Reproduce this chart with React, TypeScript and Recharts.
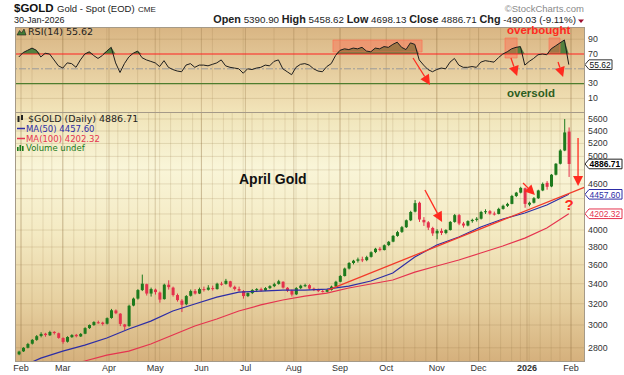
import React from 'react';
import {
  ComposedChart, Bar, Line, Area, XAxis, YAxis, CartesianGrid, ReferenceLine, ReferenceArea,
} from 'recharts';

// trading-day index 0 = 3 Feb 2025
const monthLabels = ['Feb', 'Mar', 'Apr', 'May', 'Jun', 'Jul', 'Aug', 'Sep', 'Oct', 'Nov', 'Dec', '2026', 'Feb'];
const monthStarts = [0, 19, 40, 61, 82, 102, 124, 145, 166, 189, 208, 230, 250];
const weekStarts = [0, 5, 10, 14, 19, 24, 29, 34, 39, 44, 49, 53, 58, 63, 68, 73, 78, 82, 87, 92, 96, 101, 105, 110,
  115, 120, 125, 130, 135, 140, 145, 149, 154, 159, 164, 169, 174, 179, 184, 189, 194, 199, 204, 208, 213, 218, 223,
  227, 231, 236, 241, 245, 250];
const priceTicks = [2800, 3000, 3200, 3400, 3600, 3800, 4000, 4200, 4400, 4600, 4800, 5000, 5200, 5400, 5600];
// labels that sit under the value tags on the right
const coveredTicks = [4200, 4400, 4800];
const rsiTicks = [10, 30, 70, 90];

// [open, high, low, close], one candle per two sessions, ending 30-Jan-2026
const candles = [
  [2745, 2775, 2738, 2768], [2770, 2805, 2765, 2800], [2800, 2842, 2795, 2832], [2835, 2875, 2828, 2868],
  [2868, 2910, 2860, 2900], [2902, 2935, 2890, 2920], [2922, 2930, 2895, 2910], [2908, 2948, 2902, 2937],
  [2938, 2945, 2915, 2928], [2926, 2932, 2878, 2885], [2884, 2890, 2835, 2850], [2852, 2900, 2845, 2893],
  [2892, 2918, 2885, 2910], [2912, 2920, 2890, 2900], [2898, 2928, 2893, 2920], [2922, 2980, 2918, 2972],
  [2972, 3005, 2965, 3000], [3000, 3035, 2992, 3027], [3025, 3040, 3012, 3020], [3022, 3030, 2995, 3009],
  [3012, 3070, 3005, 3063], [3065, 3150, 3058, 3137], [3135, 3145, 3100, 3109], [3105, 3110, 2990, 3010],
  [3005, 3010, 2955, 2985], [2990, 3190, 2985, 3180], [3182, 3260, 3175, 3250], [3250, 3345, 3240, 3335],
  [3335, 3495, 3325, 3400], [3395, 3400, 3280, 3300], [3300, 3360, 3270, 3345], [3340, 3350, 3290, 3315],
  [3310, 3320, 3210, 3240], [3245, 3400, 3240, 3390], [3390, 3435, 3340, 3365], [3360, 3370, 3270, 3285],
  [3285, 3300, 3220, 3235], [3230, 3245, 3120, 3190], [3195, 3285, 3185, 3275], [3278, 3340, 3270, 3325],
  [3325, 3345, 3290, 3300], [3300, 3360, 3295, 3345], [3345, 3370, 3320, 3335], [3338, 3385, 3330, 3360],
  [3355, 3380, 3330, 3345], [3345, 3410, 3340, 3400], [3400, 3420, 3380, 3395], [3398, 3450, 3390, 3430],
  [3425, 3430, 3360, 3370], [3368, 3380, 3330, 3345], [3345, 3370, 3320, 3330], [3325, 3335, 3250, 3275],
  [3275, 3310, 3265, 3305], [3305, 3345, 3295, 3335], [3335, 3355, 3315, 3345], [3345, 3360, 3320, 3330],
  [3330, 3365, 3325, 3355], [3355, 3385, 3345, 3375], [3375, 3410, 3365, 3395], [3398, 3440, 3390, 3425],
  [3420, 3425, 3350, 3360], [3358, 3365, 3315, 3330], [3328, 3340, 3270, 3290], [3292, 3365, 3285, 3355],
  [3355, 3390, 3345, 3380], [3380, 3400, 3365, 3385], [3385, 3395, 3340, 3350], [3350, 3360, 3325, 3335],
  [3335, 3350, 3315, 3325], [3325, 3340, 3310, 3318], [3318, 3345, 3312, 3335], [3338, 3380, 3330, 3370],
  [3372, 3430, 3365, 3420], [3420, 3490, 3415, 3480], [3480, 3570, 3475, 3560], [3560, 3630, 3550, 3620],
  [3620, 3655, 3605, 3645], [3645, 3680, 3625, 3660], [3660, 3690, 3630, 3650], [3652, 3700, 3640, 3685],
  [3688, 3750, 3680, 3740], [3742, 3790, 3730, 3780], [3780, 3800, 3750, 3765], [3765, 3830, 3760, 3820],
  [3822, 3870, 3810, 3860], [3862, 3940, 3855, 3930], [3930, 3990, 3920, 3975], [3978, 4050, 3965, 4035],
  [4035, 4130, 4025, 4120], [4120, 4240, 4110, 4225], [4230, 4380, 4220, 4340], [4345, 4360, 4100, 4130],
  [4125, 4160, 4050, 4095], [4095, 4110, 4000, 4030], [4025, 4040, 3930, 3960], [3960, 4010, 3890, 3990],
  [3990, 4020, 3940, 3965], [3965, 4010, 3950, 4000], [4000, 4110, 3995, 4100], [4100, 4200, 4090, 4185],
  [4185, 4200, 4060, 4080], [4080, 4100, 4030, 4055], [4055, 4120, 4045, 4110], [4110, 4140, 4090, 4125],
  [4125, 4160, 4105, 4140], [4140, 4240, 4130, 4225], [4225, 4260, 4200, 4235], [4235, 4250, 4190, 4205],
  [4205, 4230, 4180, 4200], [4200, 4280, 4195, 4265], [4265, 4320, 4255, 4305], [4305, 4345, 4290, 4330],
  [4330, 4450, 4325, 4435], [4435, 4490, 4420, 4480], [4480, 4560, 4470, 4545], [4540, 4550, 4280, 4330],
  [4320, 4360, 4300, 4345], [4345, 4420, 4335, 4405], [4405, 4520, 4395, 4510], [4510, 4620, 4500, 4600],
  [4615, 4640, 4520, 4560], [4565, 4740, 4555, 4730], [4730, 4900, 4720, 4890], [4890, 5110, 4880, 5090],
  [5090, 5600, 5080, 5376.74], [5390.9, 5458.62, 4698.13, 4886.71],
];

// moving averages read every 5th candle
const ma50 = [2634, 2714, 2772, 2823, 2884, 2964, 3036, 3130, 3197, 3265, 3315, 3325, 3335, 3335, 3345, 3376,
  3428, 3512, 3686, 3823, 3917, 4037, 4136, 4212, 4315, 4457.6];
const ma100 = [2578, 2617, 2649, 2690, 2739, 2772, 2832, 2910, 2991, 3055, 3130, 3188, 3236, 3275, 3305, 3356,
  3397, 3438, 3522, 3587, 3653, 3731, 3811, 3904, 4025, 4202.32];

const rsi14 = [
  66, 72, 75, 78, 75, 66, 71, 70, 62, 54, 51, 58, 57, 52, 62, 70, 73, 68, 64, 68,
  74, 79, 58, 45, 57, 66, 71, 74, 65, 62, 60, 58, 53, 61, 52, 49, 47, 46, 55, 57,
  52, 55, 55, 54, 56, 58, 62, 54, 52, 51, 50, 44, 50, 49, 51, 52, 55, 54, 60, 62,
  50, 46, 42, 52, 56, 57, 55, 50, 47, 46, 53, 57, 68, 75, 77, 76, 78, 77, 79, 74,
  73, 78, 77, 80, 79, 83, 86, 79, 76, 85, 83, 62, 55, 49, 46, 49, 51, 50, 59, 64,
  55, 52, 52, 53, 52, 59, 61, 60, 59, 65, 70, 73, 77, 79, 80, 55, 60, 64, 69, 70,
  69, 77, 81, 85, 89, 55.62,
];

// hand-drawn annotations, in chart units (trading day, price / rsi)
const trendLine = [{ x: 139.5, y: 3335 }, { x: 256.3, y: 4557 }];
const priceArrows = [
  [{ x: 183.6, y: 4516 }, { x: 191.4, y: 4099 }],
  [{ x: 228.2, y: 4613 }, { x: 233.6, y: 4448 }],
  [{ x: 253.2, y: 5287 }, { x: 253.2, y: 4570 }],
];
const rsiArrows = [
  [{ x: 178.2, y: 64.6 }, { x: 185.9, y: 28.1 }],
  [{ x: 222.7, y: 64.6 }, { x: 225.5, y: 40.3 }],
  [{ x: 244.1, y: 59.2 }, { x: 246.4, y: 38.9 }],
];
const rsiBoxes = [
  { x1: 141.8, x2: 182.3, y1: 72.7, y2: 88.9 },
  { x1: 220, x2: 225.5, y1: 64.6, y2: 91.6 },
  { x1: 240, x2: 245, y1: 71.4, y2: 91.6 },
];

const FONT = '"Liberation Sans", Arial, sans-serif';
const LFONT = '"DejaVu Sans", Verdana, sans-serif';
const UP = '#1d7a1d';
const DOWN = '#e4314c';
const RED = '#ff2a1f';
const BLUE = '#2d2da6';
const MAROON = '#e5344f';
const X_DOMAIN: [number, number] = [-2.73, 256.36];

const rows = candles.map(([open, high, low, close], i) => ({
  t: 2 * i - 1,
  open, high, low, close,
  hl: [low, high],
  ma50: i % 5 === 0 ? ma50[i / 5] : null,
  ma100: i % 5 === 0 ? ma100[i / 5] : null,
}));
const rsiRows = rsi14.map((v, i) => ({ t: 2 * i - 1, rsi: v, over: [70, Math.max(70, v)] }));
const last = rows[rows.length - 1];

function Candle(props: any) {
  const { x, y, width, height, payload } = props;
  if (!payload || height == null) return null;
  const top = Math.min(y, y + height);
  const h = Math.abs(height);
  const lh = Math.log(payload.high);
  const span = lh - Math.log(payload.low) || 1;
  const py = (v: number) => top + ((lh - Math.log(v)) / span) * h;
  const color = payload.close >= payload.open ? UP : DOWN;
  const cx = x + width / 2;
  const b0 = py(Math.max(payload.open, payload.close));
  const b1 = py(Math.min(payload.open, payload.close));
  return (
    <g>
      <line x1={cx} x2={cx} y1={top} y2={top + h} stroke={color} strokeWidth={1} />
      <rect x={x} y={b0} width={width} height={Math.max(1, b1 - b0)} fill={color} />
    </g>
  );
}

function Arrow(props: any) {
  const { x1, y1, x2, y2 } = props;
  const len = Math.hypot(x2 - x1, y2 - y1) || 1;
  const ux = (x2 - x1) / len;
  const uy = (y2 - y1) / len;
  const bx = x2 - ux * 10;
  const by = y2 - uy * 10;
  return (
    <g>
      <line x1={x1} y1={y1} x2={bx} y2={by} stroke={RED} strokeWidth={1.3} />
      <polygon points={`${x2},${y2} ${bx - uy * 5},${by + ux * 5} ${bx + uy * 5},${by - ux * 5}`} fill={RED} />
    </g>
  );
}

const tag = (text: string, color: string, textColor: string, bold: boolean, w: number) => (p: any) => {
  const vb = p.viewBox || {};
  const x = vb.x + vb.width;
  const y = vb.y;
  return (
    <g>
      <path d={`M${x},${y} L${x + 4},${y - 4.8} H${x + w} V${y + 4.8} H${x + 4} Z`} fill="#fff" stroke={color} strokeWidth={1} />
      <text x={x + 4.5} y={y + 3.4} fontSize={8.5} fontFamily={FONT} fontWeight={bold ? 'bold' : 'normal'} fill={textColor}>{text}</text>
    </g>
  );
};

const AxisTick = (p: any) => (coveredTicks.includes(p.payload.value) ? null : (
  <text x={p.x} y={p.y + 2.9} fontSize={8.8} fontFamily={FONT} fill="#333" textAnchor="start">{p.payload.value}</text>
));

const MonthTick = (p: any) => {
  const label = monthLabels[monthStarts.indexOf(p.payload.value)];
  return (
    <text x={p.x} y={p.y + 8.5} fontSize={9} fontFamily={FONT} fill="#333" textAnchor="middle"
      fontWeight={label === '2026' ? 'bold' : 'normal'}>{label}</text>
  );
};

const grids = [
  <CartesianGrid key="w" horizontal={false} verticalValues={weekStarts} stroke="#8a6a3a" strokeOpacity={0.16} />,
  <CartesianGrid key="m" horizontal={false} verticalValues={monthStarts} stroke="#8a6a3a" strokeOpacity={0.3} />,
];

export default function App() {
  return (
    <div style={{ position: 'absolute', left: 0, top: 0, width: 624, height: 375, background: '#fff', overflow: 'hidden' }}>
      <div style={{ position: 'absolute', left: 15, top: 27, width: 570, height: 85, background: 'linear-gradient(to bottom, #d9b583, #f2e4b9)' }} />
      <div style={{ position: 'absolute', left: 15, top: 112, width: 570, height: 250, background: 'linear-gradient(to bottom, #f0e4b8 0%, #f9f5d8 22%, #f4eac3 48%, #e7d1a1 75%, #d5b07c 100%)' }} />

      <div style={{ position: 'absolute', left: 0, top: 27 }}>
        <ComposedChart width={624} height={85} data={rsiRows} margin={{ top: 0, right: 0, bottom: 0, left: 15 }}>
          {grids}
          <CartesianGrid vertical={false} horizontalValues={[10, 90]} stroke="#8a6a3a" strokeOpacity={0.18} />
          <XAxis type="number" dataKey="t" domain={X_DOMAIN} allowDataOverflow hide />
          <YAxis orientation="right" domain={[-8.4, 106.5]} allowDataOverflow ticks={rsiTicks} interval={0} width={39}
            axisLine={false} tickLine={false} tickSize={3} tickMargin={0} tick={<AxisTick />} />
          <ReferenceLine y={50} stroke="#9b9b9b" strokeDasharray="7 2 2 2" />
          <ReferenceLine y={30} stroke="#4e7d2e" strokeWidth={1.2} />
          <Area dataKey="over" stroke="none" fill="#437a36" fillOpacity={0.9} isAnimationActive={false} />
          <ReferenceLine y={70} stroke="#ff2020" strokeWidth={1.2} />
          <Line dataKey="rsi" stroke="#1e1e1e" strokeWidth={1} dot={false} isAnimationActive={false} />
          {rsiBoxes.map((b, i) => (
            <ReferenceArea key={i} x1={b.x1} x2={b.x2} y1={b.y1} y2={b.y2} fill="#ff6a50" fillOpacity={0.45}
              stroke="#ff6a50" strokeOpacity={0.6} ifOverflow="visible" />
          ))}
          {rsiArrows.map((s, i) => (
            <ReferenceLine key={i} segment={s} ifOverflow="visible" shape={(p: any) => <Arrow {...p} />} />
          ))}
          <ReferenceLine y={rsi14[rsi14.length - 1]} stroke="none"
            label={tag(rsi14[rsi14.length - 1].toFixed(2), '#333', '#111', false, 27)} />
        </ComposedChart>
      </div>

      <div style={{ position: 'absolute', left: 0, top: 112 }}>
        <ComposedChart width={624} height={263} data={rows} margin={{ top: 0, right: 0, bottom: 0, left: 15 }}>
          {grids}
          <CartesianGrid vertical={false} horizontalValues={priceTicks} stroke="#8a6a3a" strokeOpacity={0.18} />
          <XAxis type="number" dataKey="t" domain={X_DOMAIN} allowDataOverflow ticks={monthStarts} interval={0}
            height={13} axisLine={false} tickLine={false} tickSize={0} tickMargin={0} tick={<MonthTick />} />
          <YAxis orientation="right" scale="log" domain={[2682, 5720]} allowDataOverflow ticks={priceTicks}
            interval={0} width={39} axisLine={false} tickLine={false} tickSize={3} tickMargin={0} tick={<AxisTick />} />
          <Line dataKey="ma100" stroke={MAROON} strokeWidth={1.2} dot={false} connectNulls isAnimationActive={false} />
          <Line dataKey="ma50" stroke={BLUE} strokeWidth={1.2} dot={false} connectNulls isAnimationActive={false} />
          <Bar dataKey="hl" barSize={3} isAnimationActive={false} shape={(p: any) => <Candle {...p} />} />
          <ReferenceLine segment={trendLine} stroke="#f23a2a" strokeWidth={1.3} ifOverflow="visible" />
          {priceArrows.map((s, i) => (
            <ReferenceLine key={i} segment={s} ifOverflow="visible" shape={(p: any) => <Arrow {...p} />} />
          ))}
          <ReferenceLine y={last.close} stroke="none" label={tag(last.close.toFixed(2), '#222', '#000', true, 37)} />
          <ReferenceLine y={ma50[ma50.length - 1]} stroke="none"
            label={tag(ma50[ma50.length - 1].toFixed(2), BLUE, BLUE, false, 37)} />
          <ReferenceLine y={ma100[ma100.length - 1]} stroke="none"
            label={tag(ma100[ma100.length - 1].toFixed(2), MAROON, MAROON, false, 37)} />
        </ComposedChart>
      </div>

      <div style={{ position: 'absolute', left: 15, top: 27, width: 570, height: 335, border: '1px solid #a59a88', boxSizing: 'border-box' }} />
      <div style={{ position: 'absolute', left: 15, top: 112, width: 570, height: 1, background: '#a59a88' }} />

      <svg width={624} height={375} style={{ position: 'absolute', left: 0, top: 0, pointerEvents: 'none' }}>
        <g fontFamily={FONT}>
          <text x={14} y={12} fontSize={11.5} fontWeight="bold" fill="#111">$GOLD</text>
          <text x={57} y={12} fontSize={9.5} fill="#222">Gold - Spot (EOD)</text>
          <text x={138} y={12} fontSize={8} fill="#222">CME</text>
          <text x={14} y={23} fontSize={9} fill="#222">30-Jan-2026</text>
          <text x={584} y={12} fontSize={9.5} fill="#8a8a8a" textAnchor="end">©StockCharts.com</text>
          <text x={576} y={23} fontSize={9.8} fill="#222" textAnchor="end">
            <tspan fontWeight="bold" fontSize={10.8}>Open</tspan>
            <tspan> {last.open.toFixed(2)} </tspan>
            <tspan fontWeight="bold" fontSize={10.8}>High</tspan>
            <tspan> {last.high.toFixed(2)} </tspan>
            <tspan fontWeight="bold" fontSize={10.8}>Low</tspan>
            <tspan> {last.low.toFixed(2)} </tspan>
            <tspan fontWeight="bold" fontSize={10.8}>Close</tspan>
            <tspan> {last.close.toFixed(2)} </tspan>
            <tspan fontWeight="bold" fontSize={10.8}>Chg</tspan>
            <tspan> -490.03 (-9.11%)</tspan>
          </text>
          <polygon points="578,19.5 584,19.5 581,23" fill="#9b1030" />

          <text x={239} y={184} fontSize={14} fontWeight="bold" fill="#111">April Gold</text>
          <text x={569} y={210} fontSize={15} fontWeight="bold" fill={RED} textAnchor="middle">?</text>
          <text x={507} y={34} fontSize={11.5} fontWeight="bold" fill={RED}>overbought</text>
          <text x={507} y={97} fontSize={11.5} fontWeight="bold" fill="#2e5e1e">oversold</text>
        </g>
        <g fontFamily={LFONT}>
          <polygon points="17,35 19.5,30.5 21.5,33 24,29 26,35" fill="#3f7a33" stroke="#1e1e1e" strokeWidth={0.6} />
          <text x={28} y={35} fontSize={9.5} fill="#222">RSI(14) {rsi14[rsi14.length - 1].toFixed(2)}</text>

          <rect x={17.5} y={116} width={2} height={6} fill="#222" />
          <rect x={21} y={115} width={2} height={5} fill="#222" />
          <text x={28} y={122} fontSize={9.5} fill="#222">$GOLD (Daily) {last.close.toFixed(2)}</text>
          <line x1={17} x2={25} y1={128.5} y2={128.5} stroke={BLUE} strokeWidth={1.5} />
          <text x={26} y={131.5} fontSize={8.5} fill={BLUE}>MA(50) {ma50[ma50.length - 1].toFixed(2)}</text>
          <line x1={17} x2={25} y1={138.5} y2={138.5} stroke={MAROON} strokeWidth={1.5} />
          <text x={26} y={141.5} fontSize={8.5} fill={MAROON}>MA(100) {ma100[ma100.length - 1].toFixed(2)}</text>
          <rect x={17} y={147} width={1.6} height={4} fill="#1a7a1a" />
          <rect x={19.5} y={145} width={1.6} height={6} fill="#1a7a1a" />
          <rect x={22} y={146} width={1.6} height={5} fill="#1a7a1a" />
          <text x={26} y={151} fontSize={8.5} fill="#1a7a1a">Volume undef</text>
        </g>
      </svg>
    </div>
  );
}
